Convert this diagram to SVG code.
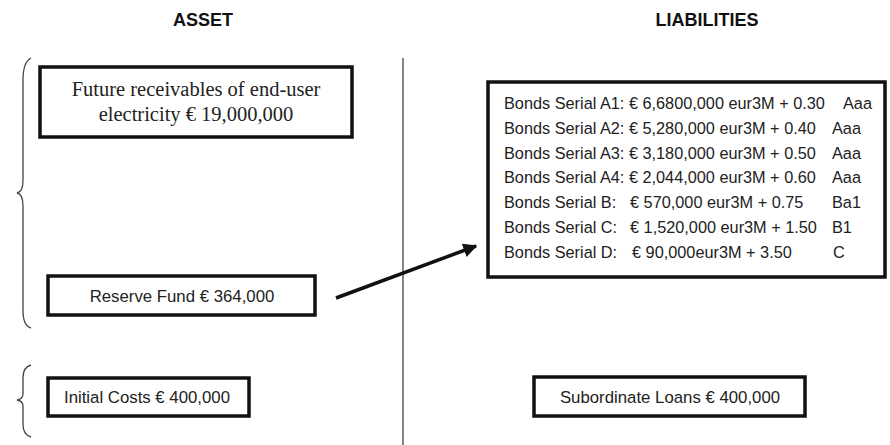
<svg xmlns="http://www.w3.org/2000/svg" width="890" height="445" viewBox="0 0 890 445">
<defs>
<style>
.box{fill:#fff;stroke:#111;stroke-width:3.5}
.t{font-family:"Liberation Sans",Arial,sans-serif;font-size:16.3px;fill:#222}
.s{font-family:"Liberation Sans",Arial,sans-serif;font-size:16.8px;fill:#222}
.serif{font-family:"Liberation Serif","Times New Roman",serif;font-size:20.5px;fill:#222}
.h{font-family:"Liberation Sans",Arial,sans-serif;font-size:18px;font-weight:bold;fill:#111}
.brace{fill:none;stroke:#444;stroke-width:1.3}
.conn{fill:none;stroke:#111;stroke-width:3.5}
</style>
<marker id="ah" viewBox="0 0 10 10" refX="9" refY="5" markerWidth="4" markerHeight="4" orient="auto" markerUnits="strokeWidth">
<path d="M0,0 L10,5 L0,10 z" fill="#111"/>
</marker>
</defs>
<rect width="890" height="445" fill="#fff"/>
<g id="titles">
<text class="h" x="203" y="26" text-anchor="middle">ASSET</text>
<text class="h" x="707" y="26" text-anchor="middle">LIABILITIES</text>
</g>
<g id="divider">
<line x1="403" y1="58" x2="403" y2="445" stroke="#444" stroke-width="1.3"/>
</g>
<g id="braces">
<path class="brace" d="M31,58 Q23,62 23,80 L23,180 Q23,192 17,193 Q23,194 23,206 L23,310 Q23,326 31,328"/>
<path class="brace" d="M31,365 Q23,367 23,378 L23,394 Q23,399 17,400 Q23,401 23,406 L23,424 Q23,435 31,437"/>
</g>
<g id="future-receivables">
<rect class="box" x="40" y="67" width="312" height="70"/>
<text class="serif" x="196" y="96" text-anchor="middle">Future receivables of end-user</text>
<text class="serif" x="196" y="121" text-anchor="middle">electricity € 19,000,000</text>
</g>
<g id="reserve-fund">
<rect class="box" x="48" y="276" width="267" height="39"/>
<text class="s" x="182" y="302" text-anchor="middle">Reserve Fund € 364,000</text>
</g>
<g id="initial-costs">
<rect class="box" x="48" y="378" width="201" height="38"/>
<text class="s" x="147" y="403" text-anchor="middle">Initial Costs € 400,000</text>
</g>
<g id="bonds">
<rect class="box" x="488" y="82" width="397" height="195"/>
<text class="t" x="504" y="109">Bonds Serial A1: € 6,6800,000 eur3M + 0.30</text><text class="t" x="843" y="109">Aaa</text>
<text class="t" x="504" y="134">Bonds Serial A2: € 5,280,000 eur3M + 0.40</text><text class="t" x="832" y="134">Aaa</text>
<text class="t" x="504" y="159">Bonds Serial A3: € 3,180,000 eur3M + 0.50</text><text class="t" x="832" y="159">Aaa</text>
<text class="t" x="504" y="183">Bonds Serial A4: € 2,044,000 eur3M + 0.60</text><text class="t" x="832" y="183">Aaa</text>
<text class="t" x="504" y="208">Bonds Serial B:</text><text class="t" x="630" y="208">€ 570,000 eur3M + 0.75</text><text class="t" x="832" y="208">Ba1</text>
<text class="t" x="504" y="233">Bonds Serial C:</text><text class="t" x="630" y="233">€ 1,520,000 eur3M + 1.50</text><text class="t" x="832" y="233">B1</text>
<text class="t" x="504" y="258">Bonds Serial D:</text><text class="t" x="632" y="258">€ 90,000eur3M + 3.50</text><text class="t" x="833" y="258">C</text>
</g>
<g id="subordinate-loans">
<rect class="box" x="534" y="377" width="271" height="39"/>
<text class="s" x="670" y="403" text-anchor="middle">Subordinate Loans € 400,000</text>
</g>
<g id="connectors">
<line class="conn" x1="336" y1="298" x2="476" y2="246" marker-end="url(#ah)"/>
</g>
</svg>
